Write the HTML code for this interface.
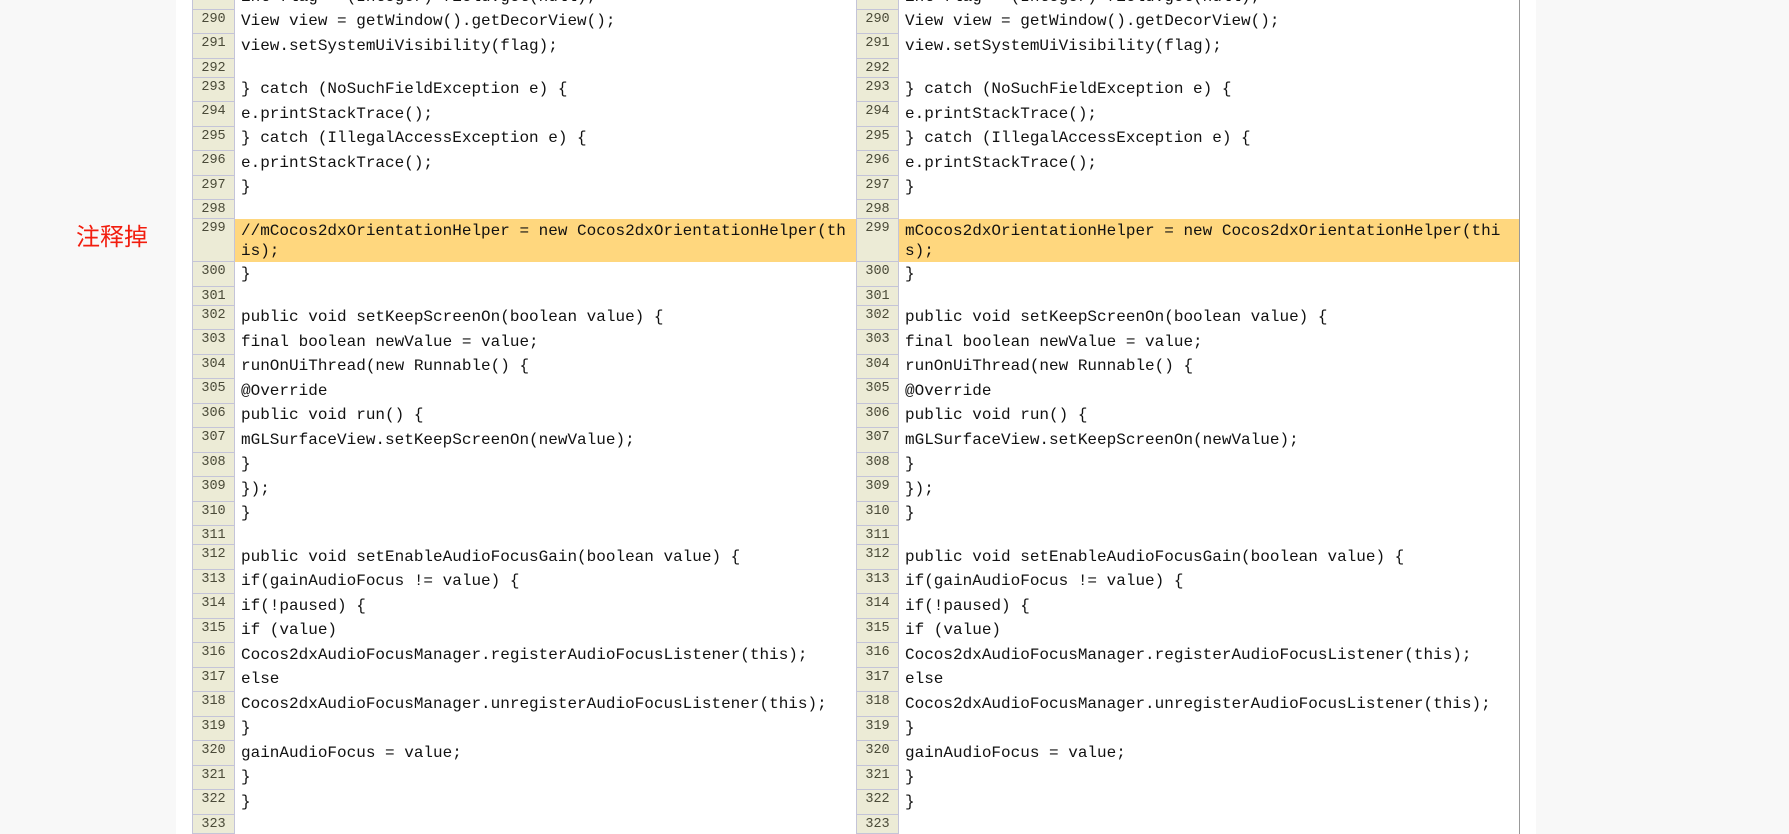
<!DOCTYPE html>
<html><head><meta charset="utf-8"><style>
html,body{margin:0;padding:0;width:1789px;height:834px;overflow:hidden;background:#fff;}
body{position:relative;font-family:"Liberation Mono",monospace;}
.bgl{position:absolute;left:0;top:0;width:176px;height:834px;background:#f8f8f8;}
.bgr{position:absolute;left:1536px;top:0;width:253px;height:834px;background:#f8f8f8;}
.vline{position:absolute;left:1519px;top:0;width:1px;height:834px;background:#999;}
table{position:absolute;left:192px;top:-16px;border-collapse:collapse;table-layout:fixed;width:1327px;}
td{padding:0;vertical-align:top;}
td.n{width:41px;background:#ecebd6;border:1px solid #c4c4d8;color:#4a4a38;font-size:13.5px;text-align:center;padding-top:2px;box-sizing:border-box;line-height:16px;}
td.c{font-size:16px;color:#111;padding-left:6px;white-space:pre;line-height:24px;}
tr.t td{height:24.5px;}
tr.e td{height:19px;}
tr.h td.c{background:#ffd77e;line-height:20px;padding-top:2px;height:41px;}
tr.h td.n{height:43px;}
.lbl{position:absolute;left:76px;top:217px;font-family:"Liberation Sans","Noto Sans CJK SC",sans-serif;font-size:24px;color:#f21d0e;}
</style></head><body>
<div class="bgl"></div><div class="bgr"></div>
<div class="lbl">注释掉</div>
<table>
<colgroup><col style="width:42px"><col style="width:622px"><col style="width:42px"><col style="width:621px"></colgroup>
<tr class="t"><td class="n">289</td><td class="c">int flag = (Integer) field.get(null);</td><td class="n">289</td><td class="c">int flag = (Integer) field.get(null);</td></tr>
<tr class="t"><td class="n">290</td><td class="c">View view = getWindow().getDecorView();</td><td class="n">290</td><td class="c">View view = getWindow().getDecorView();</td></tr>
<tr class="t"><td class="n">291</td><td class="c">view.setSystemUiVisibility(flag);</td><td class="n">291</td><td class="c">view.setSystemUiVisibility(flag);</td></tr>
<tr class="e"><td class="n">292</td><td class="c"></td><td class="n">292</td><td class="c"></td></tr>
<tr class="t"><td class="n">293</td><td class="c">} catch (NoSuchFieldException e) {</td><td class="n">293</td><td class="c">} catch (NoSuchFieldException e) {</td></tr>
<tr class="t"><td class="n">294</td><td class="c">e.printStackTrace();</td><td class="n">294</td><td class="c">e.printStackTrace();</td></tr>
<tr class="t"><td class="n">295</td><td class="c">} catch (IllegalAccessException e) {</td><td class="n">295</td><td class="c">} catch (IllegalAccessException e) {</td></tr>
<tr class="t"><td class="n">296</td><td class="c">e.printStackTrace();</td><td class="n">296</td><td class="c">e.printStackTrace();</td></tr>
<tr class="t"><td class="n">297</td><td class="c">}</td><td class="n">297</td><td class="c">}</td></tr>
<tr class="e"><td class="n">298</td><td class="c"></td><td class="n">298</td><td class="c"></td></tr>
<tr class="h"><td class="n">299</td><td class="c">//mCocos2dxOrientationHelper = new Cocos2dxOrientationHelper(th
is);</td><td class="n">299</td><td class="c">mCocos2dxOrientationHelper = new Cocos2dxOrientationHelper(thi
s);</td></tr>
<tr class="t"><td class="n">300</td><td class="c">}</td><td class="n">300</td><td class="c">}</td></tr>
<tr class="e"><td class="n">301</td><td class="c"></td><td class="n">301</td><td class="c"></td></tr>
<tr class="t"><td class="n">302</td><td class="c">public void setKeepScreenOn(boolean value) {</td><td class="n">302</td><td class="c">public void setKeepScreenOn(boolean value) {</td></tr>
<tr class="t"><td class="n">303</td><td class="c">final boolean newValue = value;</td><td class="n">303</td><td class="c">final boolean newValue = value;</td></tr>
<tr class="t"><td class="n">304</td><td class="c">runOnUiThread(new Runnable() {</td><td class="n">304</td><td class="c">runOnUiThread(new Runnable() {</td></tr>
<tr class="t"><td class="n">305</td><td class="c">@Override</td><td class="n">305</td><td class="c">@Override</td></tr>
<tr class="t"><td class="n">306</td><td class="c">public void run() {</td><td class="n">306</td><td class="c">public void run() {</td></tr>
<tr class="t"><td class="n">307</td><td class="c">mGLSurfaceView.setKeepScreenOn(newValue);</td><td class="n">307</td><td class="c">mGLSurfaceView.setKeepScreenOn(newValue);</td></tr>
<tr class="t"><td class="n">308</td><td class="c">}</td><td class="n">308</td><td class="c">}</td></tr>
<tr class="t"><td class="n">309</td><td class="c">});</td><td class="n">309</td><td class="c">});</td></tr>
<tr class="t"><td class="n">310</td><td class="c">}</td><td class="n">310</td><td class="c">}</td></tr>
<tr class="e"><td class="n">311</td><td class="c"></td><td class="n">311</td><td class="c"></td></tr>
<tr class="t"><td class="n">312</td><td class="c">public void setEnableAudioFocusGain(boolean value) {</td><td class="n">312</td><td class="c">public void setEnableAudioFocusGain(boolean value) {</td></tr>
<tr class="t"><td class="n">313</td><td class="c">if(gainAudioFocus != value) {</td><td class="n">313</td><td class="c">if(gainAudioFocus != value) {</td></tr>
<tr class="t"><td class="n">314</td><td class="c">if(!paused) {</td><td class="n">314</td><td class="c">if(!paused) {</td></tr>
<tr class="t"><td class="n">315</td><td class="c">if (value)</td><td class="n">315</td><td class="c">if (value)</td></tr>
<tr class="t"><td class="n">316</td><td class="c">Cocos2dxAudioFocusManager.registerAudioFocusListener(this);</td><td class="n">316</td><td class="c">Cocos2dxAudioFocusManager.registerAudioFocusListener(this);</td></tr>
<tr class="t"><td class="n">317</td><td class="c">else</td><td class="n">317</td><td class="c">else</td></tr>
<tr class="t"><td class="n">318</td><td class="c">Cocos2dxAudioFocusManager.unregisterAudioFocusListener(this);</td><td class="n">318</td><td class="c">Cocos2dxAudioFocusManager.unregisterAudioFocusListener(this);</td></tr>
<tr class="t"><td class="n">319</td><td class="c">}</td><td class="n">319</td><td class="c">}</td></tr>
<tr class="t"><td class="n">320</td><td class="c">gainAudioFocus = value;</td><td class="n">320</td><td class="c">gainAudioFocus = value;</td></tr>
<tr class="t"><td class="n">321</td><td class="c">}</td><td class="n">321</td><td class="c">}</td></tr>
<tr class="t"><td class="n">322</td><td class="c">}</td><td class="n">322</td><td class="c">}</td></tr>
<tr class="e"><td class="n">323</td><td class="c"></td><td class="n">323</td><td class="c"></td></tr>
<tr class="e"><td class="n">324</td><td class="c"></td><td class="n">324</td><td class="c"></td></tr>
</table>
<div class="vline"></div>
</body></html>
